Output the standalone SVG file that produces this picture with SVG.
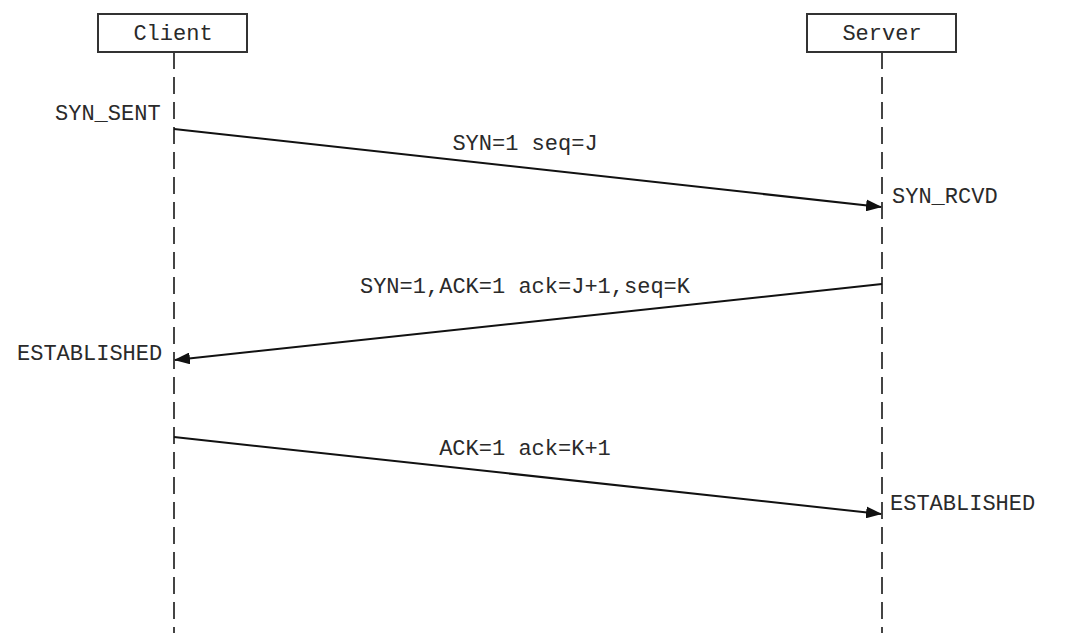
<svg xmlns="http://www.w3.org/2000/svg" width="1083" height="633" viewBox="0 0 1083 633">
<style>
text{font-family:"Liberation Mono","DejaVu Sans Mono",monospace;font-size:22px;fill:#2a2a2a}
.box{fill:#fff;stroke:#333;stroke-width:2}
.life{stroke:#444;stroke-width:2;stroke-dasharray:17 8;fill:none}
.msg{stroke:#111;stroke-width:2;fill:none;marker-end:url(#ah)}
</style>
<defs>
<marker id="ah" markerWidth="16" markerHeight="12" refX="15" refY="6" orient="auto" markerUnits="userSpaceOnUse">
<path d="M0,0 L16,6 L0,12 Z" fill="#111"/>
</marker>
</defs>
<rect width="1083" height="633" fill="#fff"/>
<g id="client">
<line class="life" x1="174" y1="52" x2="174" y2="633"/>
<rect class="box" x="98" y="14" width="149" height="38"/>
<text x="173" y="40" text-anchor="middle">Client</text>
</g>
<g id="server">
<line class="life" x1="882" y1="52" x2="882" y2="633"/>
<rect class="box" x="807" y="14" width="149" height="38"/>
<text x="882" y="40" text-anchor="middle">Server</text>
</g>
<g id="states">
<text x="55" y="120">SYN_SENT</text>
<text x="892" y="203">SYN_RCVD</text>
<text x="17" y="360">ESTABLISHED</text>
<text x="890" y="510">ESTABLISHED</text>
</g>
<g id="connectors">
<line class="msg" x1="174" y1="129" x2="881" y2="207"/>
<line class="msg" x1="882" y1="284" x2="175" y2="360"/>
<line class="msg" x1="174" y1="437" x2="881" y2="514"/>
<text x="525" y="150" text-anchor="middle">SYN=1 seq=J</text>
<text x="525" y="293" text-anchor="middle">SYN=1,ACK=1 ack=J+1,seq=K</text>
<text x="525" y="455" text-anchor="middle">ACK=1 ack=K+1</text>
</g>
</svg>
